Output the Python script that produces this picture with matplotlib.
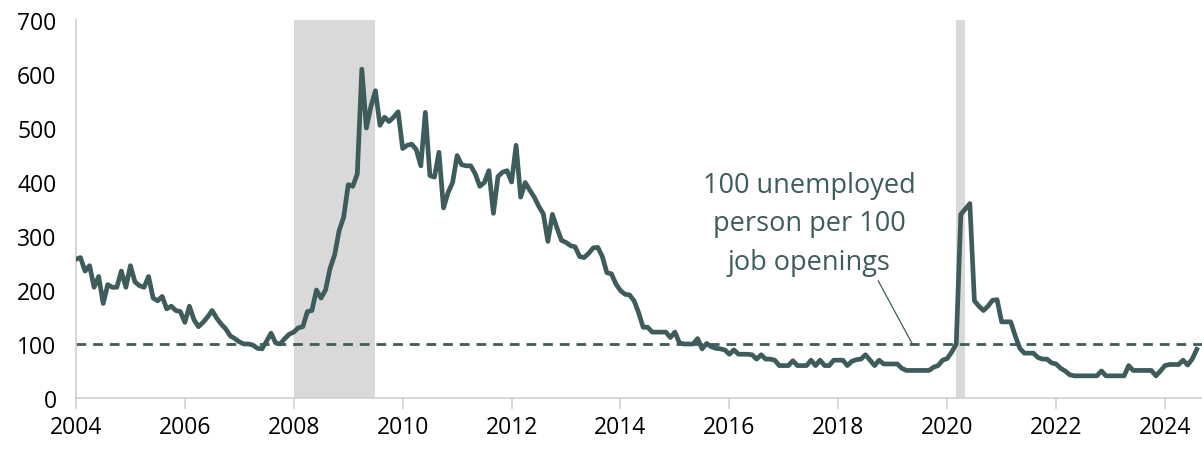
import numpy as np
import matplotlib
matplotlib.use("Agg")
import matplotlib.pyplot as plt

plt.rcParams['font.family'] = ['Open Sans', 'DejaVu Sans']

# unemployed persons per 100 job openings, monthly from Jan 2004
y2004 = [257, 260, 235, 245, 205, 225, 175, 210, 205, 205, 235, 205]
y2005 = [245, 215, 208, 205, 225, 185, 180, 188, 165, 170, 162, 160]
y2006 = [140, 170, 145, 132, 140, 150, 162, 148, 137, 128, 115, 110]
y2007 = [104, 100, 100, 98, 92, 91, 105, 120, 102, 100, 110, 118]
y2008 = [122, 130, 132, 160, 162, 200, 185, 200, 240, 265, 310, 335]
y2009 = [395, 392, 415, 609, 500, 540, 569, 505, 520, 512, 520, 530]
y2010 = [462, 468, 470, 460, 430, 529, 412, 409, 455, 352, 380, 399]
y2011 = [449, 432, 430, 430, 415, 392, 399, 421, 342, 410, 418, 421]
y2012 = [400, 468, 372, 399, 385, 372, 355, 341, 290, 340, 315, 292]
y2013 = [288, 282, 280, 262, 260, 268, 278, 279, 262, 232, 230, 211]
y2014 = [199, 192, 191, 180, 158, 131, 131, 122, 122, 122, 122, 112]
y2015 = [122, 102, 100, 100, 100, 110, 91, 101, 95, 92, 91, 89]
y2016 = [81, 89, 81, 81, 81, 80, 72, 80, 72, 72, 70, 60]
y2017 = [60, 60, 69, 60, 60, 60, 70, 60, 70, 60, 60, 70]
y2018 = [70, 70, 60, 68, 71, 72, 80, 70, 60, 70, 63, 63]
y2019 = [63, 63, 55, 51, 51, 51, 51, 51, 51, 57, 60, 70]
y2020 = [73, 85, 100, 340, 350, 360, 180, 170, 162, 170, 181, 182]
y2021 = [141, 141, 141, 115, 92, 83, 83, 83, 75, 72, 72, 65]
y2022 = [63, 55, 50, 43, 41, 41, 41, 41, 41, 41, 50, 41]
y2023 = [41, 41, 41, 41, 60, 51, 51, 51, 51, 51, 41, 50]
y2024 = [60, 62, 62, 62, 70, 61, 72, 90]

recessions = [(2008.0, 2009.5), (2020.17, 2020.33)]
threshold = 100
note = "100 unemployed\nperson per 100\njob openings"

ratio = (y2004 + y2005 + y2006 + y2007 + y2008 + y2009 + y2010 + y2011
         + y2012 + y2013 + y2014 + y2015 + y2016 + y2017 + y2018 + y2019
         + y2020 + y2021 + y2022 + y2023 + y2024)
dates = 2004 + np.arange(len(ratio)) / 12

color = '#3d5c5b'

fig = plt.figure(figsize=(12.02, 4.52), dpi=100)
ax = fig.add_axes([0.0632, 0.1173, 0.9368, 0.8362])

for a, b in recessions:
    ax.axvspan(a, b, color='#d9d9d9', lw=0, zorder=0)

ax.axhline(threshold, color=color, lw=2, ls=(0, (3.5, 2.5)), zorder=2)
ax.plot(dates, ratio, color=color, lw=3.4, solid_joinstyle='round', zorder=3)

ax.annotate(note, xy=(2019.36, threshold), xytext=(2017.47, 324),
            ha='center', va='center', fontsize=19.5, color=color,
            linespacing=1.5,
            arrowprops=dict(arrowstyle='-', color=color, lw=0.9,
                            shrinkA=2, shrinkB=0,
                            relpos=(0.81, 0.0)))

ax.set_xlim(2004, 2024.68)
ax.set_ylim(0, 700)
ax.set_xticks(range(2004, 2025, 2))
ax.set_yticks(range(0, 701, 100))

for s in ['top', 'right']:
    ax.spines[s].set_visible(False)
for s in ['left', 'bottom']:
    ax.spines[s].set_color('#d0d0d0')
    ax.spines[s].set_linewidth(1.2)

ax.tick_params(axis='x', direction='out', length=8, color='#d0d0d0',
               width=1.2, labelsize=16.5, pad=4)
ax.tick_params(axis='y', length=0, labelsize=16.5, pad=14)

fig.savefig('out.png', dpi=100)
